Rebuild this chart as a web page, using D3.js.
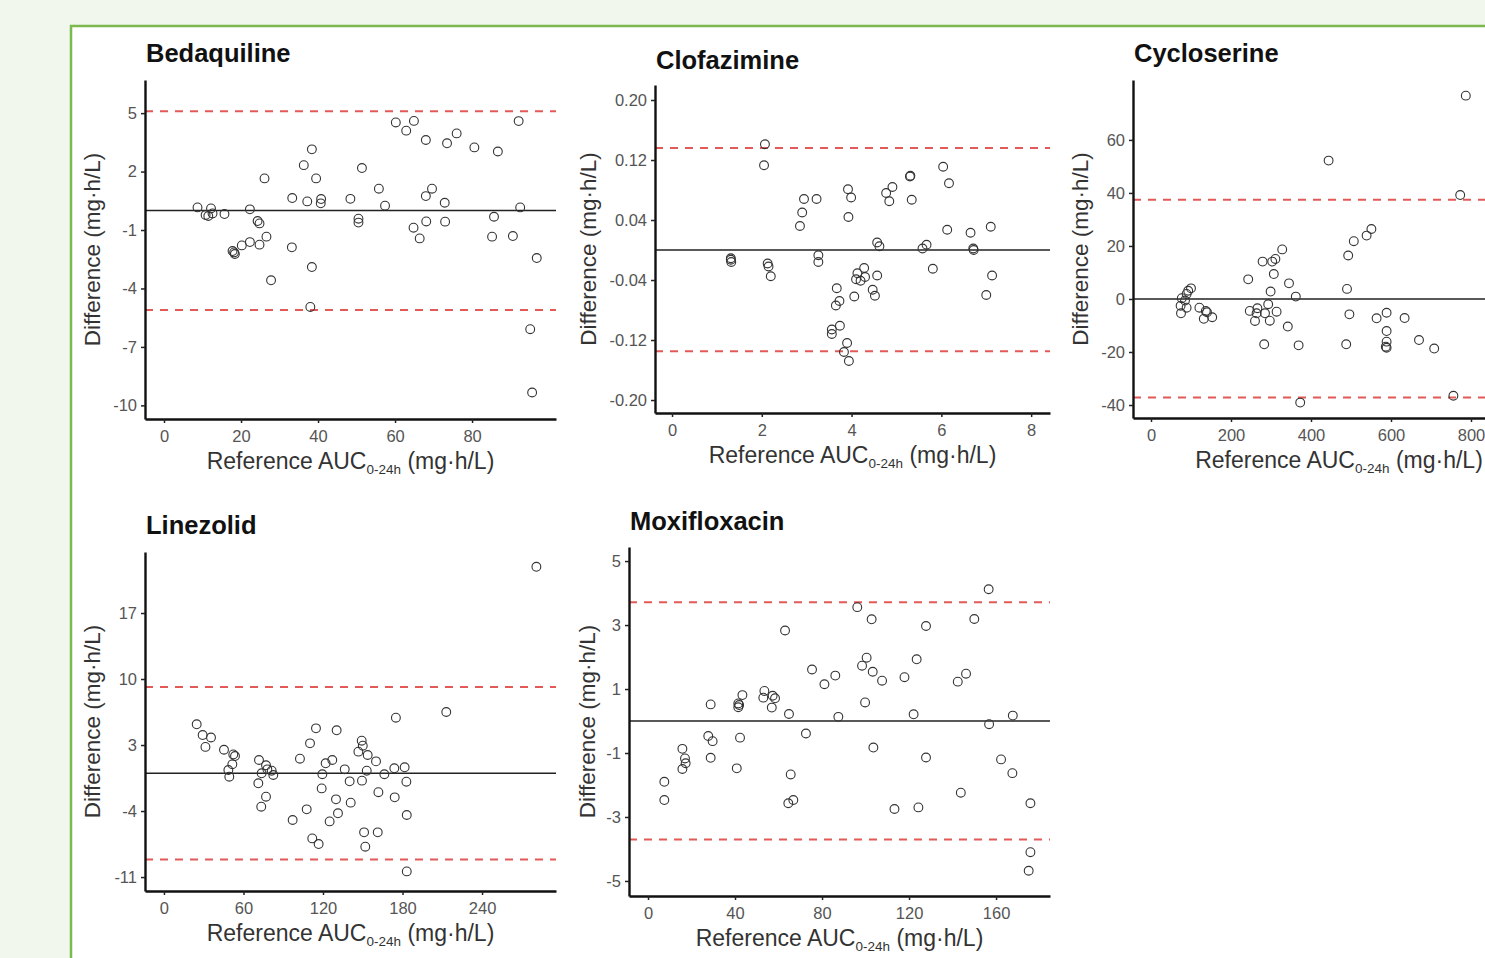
<!DOCTYPE html>
<html>
<head>
<meta charset="utf-8">
<script src="https://cdn.jsdelivr.net/npm/d3@7"></script>
<style>
body{margin:0;background:#f2f7ee;overflow:hidden;}
svg{display:block;}
text{font-family:"Liberation Sans",Arial,sans-serif;}
</style>
</head>
<body>
<svg id="fig" width="1485" height="958"></svg>
<script>
// ---- data ----
var drugNames=["Bedaquiline","Clofazimine","Cycloserine","Linezolid","Moxifloxacin"];

// Bedaquiline
var bdqRef=[8.7,10.8,12.2,12.6,11.5,15.7,22.3,24.3,24.8,26.1,26.6,24.8,22.3,20.2,17.8,18.4,18.2,27.8,33.3,33.2,36.3,38.4,39.5,37.2,40.8,40.7,38.4,38.0,48.4,51.4,50.5,50.5,55.8,57.4,60.2,62.9,64.9,68.0,73.5,76.0,69.6,68.0,72.9,68.1,73.0,64.8,66.4,80.6,86.7,92.1,92.5,85.7,85.2,90.6,96.8,95.1,95.6];
var bdqDiff=[0.16,-0.23,0.11,-0.15,-0.28,-0.18,0.06,-0.54,-0.66,1.65,-1.34,-1.75,-1.62,-1.79,-2.08,-2.23,-2.15,-3.58,0.64,-1.89,2.33,3.14,1.65,0.47,0.59,0.37,-2.9,-4.95,0.6,2.18,-0.42,-0.62,1.12,0.25,4.52,4.1,4.6,3.62,3.45,3.96,1.12,0.74,0.4,-0.56,-0.57,-0.88,-1.43,3.24,3.03,4.59,0.16,-0.32,-1.34,-1.31,-2.44,-6.09,-9.34];
var bdqLoa=[5.1,-5.1];
var bdqXTicks=[0,20,40,60,80];
var bdqYTicks=[5,2,-1,-4,-7,-10];

// Clofazimine
var cfzRef=[2.07,2.05,1.31,1.32,1.31,2.13,2.15,2.20,2.94,3.22,2.90,2.85,3.26,3.26,3.92,3.99,3.93,3.67,3.73,3.65,3.56,3.56,3.74,3.90,3.83,3.94,4.06,4.13,4.28,4.10,4.20,4.30,4.47,4.52,4.57,4.57,4.62,4.77,4.91,4.84,5.30,5.31,5.34,5.58,5.67,5.81,6.04,6.17,6.13,6.65,6.71,6.72,7.10,7.13,7.00];
var cfzDiff=[0.141,0.113,-0.013,-0.016,-0.011,-0.018,-0.022,-0.035,0.068,0.068,0.050,0.032,-0.007,-0.016,0.081,0.070,0.044,-0.051,-0.068,-0.074,-0.106,-0.112,-0.101,-0.124,-0.136,-0.148,-0.062,-0.031,-0.024,-0.039,-0.041,-0.036,-0.053,-0.061,-0.034,0.010,0.005,0.076,0.084,0.065,0.098,0.099,0.067,0.002,0.007,-0.025,0.111,0.089,0.027,0.023,0.002,0.000,0.031,-0.034,-0.060];
var cfzLoa=[0.136,-0.135];
var cfzXTicks=[0,2,4,6,8];
var cfzYTicks=[0.20,0.12,0.04,-0.04,-0.12,-0.20];

// Cycloserine
var csRef=[787,444,773,756,373,551,539,507,493,490,496,488,564,589,589,589,587,589,634,670,708,328,311,303,279,307,243,345,299,362,293,266,247,264,285,314,260,297,342,283,369,100,93,89,77,85,74,89,75,121,137,153,132,140];
var csDiff=[76.7,52.2,39.2,-36.5,-39.1,26.4,23.9,21.8,16.4,3.8,-5.8,-17.1,-7.3,-5.2,-12.1,-16.1,-18.0,-18.4,-7.2,-15.5,-18.7,18.7,15.1,14.1,14.1,9.4,7.4,5.9,2.8,0.9,-2.0,-3.5,-4.5,-5.4,-5.4,-4.8,-8.3,-8.2,-10.4,-17.1,-17.5,4.0,3.1,1.9,0.3,-0.6,-2.6,-3.3,-5.4,-3.3,-4.5,-6.9,-7.5,-5.0];
var csLoa=[37.4,-37.2];
var csXTicks=[0,200,400,600,800];
var csYTicks=[60,40,20,0,-20,-40];

// Linezolid
var lzdRef=[281,213,175,24.7,29.2,35.5,31.3,45.3,52.3,53.6,51.6,48.6,49.3,71.7,77,78,81.3,82.5,73.7,71.2,77,73.4,97.1,107.7,111.9,116.7,102.6,110.2,114.7,130.3,122,127,119.5,119,129.8,131.3,125,136.4,140.1,140.9,149.2,150,146.7,153.7,160,153,149.4,166.3,161.8,151,161.3,151.9,173.8,181.6,182.9,174.1,183.2,183.2];
var lzdDiff=[21.9,6.5,5.9,5.2,4.06,3.8,2.8,2.5,2.0,1.83,0.95,0.35,-0.36,1.41,0.85,0.42,0.28,-0.18,0.0,-1.06,-2.48,-3.54,-4.95,-3.82,-6.9,-7.5,1.55,3.18,4.77,4.56,1.06,1.41,-0.1,-1.6,-2.76,-4.24,-5.1,0.42,-0.85,-3.11,3.46,2.93,2.3,1.94,1.27,0.28,-0.78,-0.1,-2.0,-6.26,-6.26,-7.78,0.53,0.64,-0.89,-2.55,-4.42,-10.4];
var lzdLoa=[9.15,-9.15];
var lzdXTicks=[0,60,120,180,240];
var lzdYTicks=[17,10,3,-4,-11];

// Moxifloxacin
var mfxRef=[156.6,96.2,102.8,127.8,150,63,100.5,98.4,103.3,107.6,123.5,117.9,75.4,86.1,81.1,146.2,142.4,53.5,53,57.3,58.4,56.9,43.4,41.5,41.5,41.9,28.8,64.8,87.5,99.8,122.1,167.7,156.8,72.6,27.7,29.7,42.3,15.8,17,17.3,15.8,28.8,40.8,7.5,7.5,65.6,64.5,66.8,103.6,127.8,113.3,124.3,143.8,162.3,167.5,175.8,175.8,175];
var mfxDiff=[4.12,3.56,3.18,2.97,3.19,2.83,1.98,1.73,1.54,1.26,1.93,1.37,1.61,1.42,1.15,1.48,1.23,0.94,0.73,0.79,0.71,0.42,0.81,0.55,0.43,0.5,0.52,0.22,0.13,0.58,0.21,0.17,-0.1,-0.39,-0.47,-0.63,-0.52,-0.87,-1.17,-1.32,-1.5,-1.15,-1.48,-1.9,-2.47,-1.67,-2.57,-2.47,-0.83,-1.14,-2.75,-2.7,-2.24,-1.2,-1.63,-2.57,-4.1,-4.68];
var mfxLoa=[3.71,-3.70];
var mfxXTicks=[0,40,80,120,160];
var mfxYTicks=[5,3,1,-1,-3,-5];

// ---- layout ----
var intFmt=function(d){return String(d);};
var panels=[
  {name:drugNames[0],xs:bdqRef,ys:bdqDiff,loa:bdqLoa,xt:bdqXTicks,yt:bdqYTicks,yf:intFmt,
   left:145,right:556,top:80,bottom:419,xdom:[-4.94,101.8],ydom:[-10.7,6.7],titleY:62,ytX:100},
  {name:drugNames[1],xs:cfzRef,ys:cfzDiff,loa:cfzLoa,xt:cfzXTicks,yt:cfzYTicks,yf:function(d){return d.toFixed(2);},
   left:655,right:1050,top:85,bottom:413,xdom:[-0.379,8.42],ydom:[-0.2173,0.22],titleY:69,ytX:596},
  {name:drugNames[2],xs:csRef,ys:csDiff,loa:csLoa,xt:csXTicks,yt:csYTicks,yf:intFmt,
   left:1133,right:1545,top:80,bottom:418,xdom:[-45,985],ydom:[-44.9,82.6],titleY:62,ytX:1088},
  {name:drugNames[3],xs:lzdRef,ys:lzdDiff,loa:lzdLoa,xt:lzdXTicks,yt:lzdYTicks,yf:intFmt,
   left:145,right:556,top:552,bottom:891,xdom:[-14.3,295.8],ydom:[-12.48,23.47],titleY:534,ytX:100},
  {name:drugNames[4],xs:mfxRef,ys:mfxDiff,loa:mfxLoa,xt:mfxXTicks,yt:mfxYTicks,yf:intFmt,
   left:629,right:1050,top:547,bottom:896,xdom:[-8.74,184.8],ydom:[-5.47,5.44],titleY:530,ytX:595}
];

var svg=d3.select("#fig");

// white card with green border
svg.append("rect").attr("x",71).attr("y",26).attr("width",1500).attr("height",1000)
  .attr("fill","#fff").attr("stroke","#7cb94e").attr("stroke-width",2.5);

function drawPanel(p){
  var x=d3.scaleLinear().domain(p.xdom).range([p.left,p.right]);
  var y=d3.scaleLinear().domain(p.ydom).range([p.bottom,p.top]);
  var g=svg.append("g");

  // limits of agreement
  g.selectAll("line.loa").data(p.loa).enter().append("line").attr("class","loa")
    .attr("x1",p.left).attr("x2",p.right)
    .attr("y1",function(d){return y(d);}).attr("y2",function(d){return y(d);})
    .attr("stroke","#e25a58").attr("stroke-width",2).attr("stroke-dasharray","8,7");

  // mean difference (zero) line
  g.append("line").attr("x1",p.left).attr("x2",p.right)
    .attr("y1",y(0)).attr("y2",y(0))
    .attr("stroke","#222").attr("stroke-width",1.6);

  // points
  g.selectAll("circle").data(d3.zip(p.xs,p.ys)).enter().append("circle")
    .attr("cx",function(d){return x(d[0]);})
    .attr("cy",function(d){return y(d[1]);})
    .attr("r",4.4).attr("fill","none").attr("stroke","#333").attr("stroke-width",1.1);

  // axes
  var xa=g.append("g").attr("transform","translate(0,"+p.bottom+")")
    .call(d3.axisBottom(x).tickValues(p.xt).tickFormat(intFmt).tickSize(4).tickSizeOuter(0).tickPadding(7));
  var ya=g.append("g").attr("transform","translate("+p.left+",0)")
    .call(d3.axisLeft(y).tickValues(p.yt).tickFormat(p.yf).tickSize(4).tickSizeOuter(0).tickPadding(4));
  [xa,ya].forEach(function(a){
    a.select(".domain").attr("stroke","#111").attr("stroke-width",2.4);
    a.selectAll(".tick line").attr("stroke","#222").attr("stroke-width",1.5);
    a.selectAll(".tick text").attr("fill","#555").style("font-size","16.5px")
      .style("font-family","'Liberation Sans',Arial,sans-serif");
  });

  // panel title
  svg.append("text").attr("x",p.left+1).attr("y",p.titleY)
    .attr("font-size",25.5).attr("font-weight","bold").attr("fill","#111").text(p.name);

  // x axis title with subscript
  var xt=svg.append("text").attr("x",(p.left+p.right)/2).attr("y",p.bottom+50)
    .attr("text-anchor","middle").attr("font-size",23).attr("fill","#333");
  xt.append("tspan").text("Reference AUC");
  xt.append("tspan").attr("font-size",13.5).attr("dy",5).text("0-24h");
  xt.append("tspan").attr("dy",-5).text(" (mg\u00b7h/L)");

  // y axis title
  svg.append("text").attr("transform","translate("+p.ytX+","+((p.top+p.bottom)/2)+") rotate(-90)")
    .attr("text-anchor","middle").attr("font-size",22.5).attr("fill","#333")
    .text("Difference (mg\u00b7h/L)");
}

panels.forEach(drawPanel);
</script>
</body>
</html>
